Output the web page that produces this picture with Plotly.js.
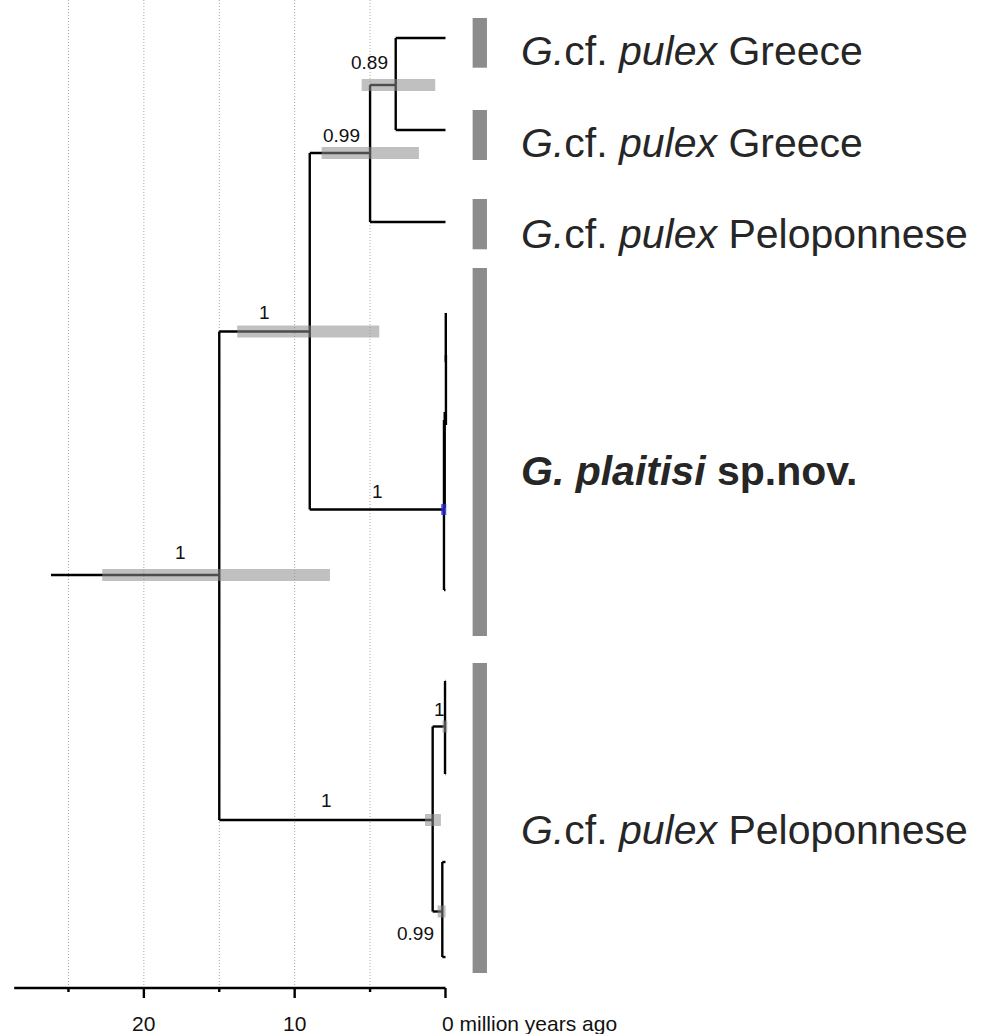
<!DOCTYPE html>
<html>
<head>
<meta charset="utf-8">
<script src="https://cdn.plot.ly/plotly-3.0.1.min.js"></script>
<style>html,body{margin:0;padding:0;background:#fff;}#chart{width:984px;height:1034px;}</style>
</head>
<body>
<div id="chart"></div>
<script>
// ---------- DATA (ages in million years ago; y = row position) ----------
const nodeNames   = ['root', 'A', 'B', 'C', 'D', 'E', 'F', 'G'];
const nodeAges    = [15.0, 9.0, 5.0, 3.3, 0.1, 0.85, 0.03, 0.21];
const nodeParents = [null, 'root', 'A', 'B', 'A', 'root', 'E', 'E'];
const nodeRowY    = [575, 331.5, 153, 85, 509.5, 820, 726.5, 911.5];
const nodeSpanTop = [331.5, 153, 85, 38, 420, 726.5, 681, 862];
const nodeSpanBot = [820, 509.5, 222, 130, 590, 911.5, 774, 957];
const nodeSupport = ['1', '1', '0.99', '0.89', '1', '1', '1', '0.99'];
const hpdLow      = [7.66, 4.39, 1.76, 0.68, -0.05, 0.30, -0.12, -0.01];
const hpdHigh     = [22.76, 13.81, 8.21, 5.56, 0.28, 1.36, 0.20, 0.52];
const labelAge    = [17.6, 11.97, 6.9, 5.06, 4.5, 7.9, 0.4, 2.0];
const labelRowY   = [552.7, 312.7, 135, 62.7, 491, 800, 709, 933.3];

const rootStemAge = 26.16;

const tipParents = ['C', 'C', 'B', 'F', 'F', 'G', 'G', 'D'];
const tipRowY    = [38, 130, 222, 681, 774, 862, 957, 590];
const tipAges    = [0, 0, 0, 0, 0, 0, 0, 0];

// near-zero-length comb inside G. plaitisi
const combAges = [-0.02, -0.03, 0.05];
const combTop  = [313, 355, 412];
const combBot  = [362, 425, 508];

const cladeLabels = [
  '<i>G.</i>cf. <i>pulex</i> Greece',
  '<i>G.</i>cf. <i>pulex</i> Greece',
  '<i>G.</i>cf. <i>pulex</i> Peloponnese',
  '<b><i>G. plaitisi</i> sp.nov.</b>',
  '<i>G.</i>cf. <i>pulex</i> Peloponnese'
];
const cladeTop    = [18, 110, 199, 268, 663];
const cladeBottom = [67.7, 160, 249.3, 636, 973];
const cladeLabelY = [50.8, 142.5, 233.5, 470.8, 830];

const tickVals  = [25, 20, 15, 10, 5, 0];
const tickText  = ['', '20', '', '10', '', '0 million years ago'];
const tickMajor = [false, true, false, true, false, true];
const axisStart = 28.6;

// ---------- BUILD ----------
const FONT = 'Liberation Sans, Arial, Helvetica, sans-serif';
const ageOf = n => n === null ? rootStemAge : nodeAges[nodeNames.indexOf(n)];

const lx = [], ly = [];
function seg(x1, y1, x2, y2) { lx.push(x1, x2, null); ly.push(y1, y2, null); }

// root stem
seg(rootStemAge, nodeRowY[0], nodeAges[0], nodeRowY[0]);
// internal branches and node verticals
nodeNames.forEach((n, i) => {
  if (nodeParents[i] !== null) seg(ageOf(nodeParents[i]), nodeRowY[i], nodeAges[i], nodeRowY[i]);
  seg(nodeAges[i], nodeSpanTop[i], nodeAges[i], nodeSpanBot[i]);
});
// tip branches
tipParents.forEach((p, i) => seg(ageOf(p), tipRowY[i], tipAges[i], tipRowY[i]));
// comb
combAges.forEach((a, i) => seg(a, combTop[i], a, combBot[i]));

const hx = [], hy = [];
nodeNames.forEach((n, i) => {
  if (n === 'D') return;
  hx.push(hpdHigh[i], hpdLow[i], null); hy.push(nodeRowY[i], nodeRowY[i], null);
});
const di = nodeNames.indexOf('D');

const traces = [
  {x: lx, y: ly, mode: 'lines', line: {color: '#000', width: 2.4}, hoverinfo: 'skip', connectgaps: false},
  {x: hx, y: hy, mode: 'lines', line: {color: 'rgba(140,140,140,0.55)', width: 12}, hoverinfo: 'skip', connectgaps: false},
  {x: [hpdHigh[di], hpdLow[di]], y: [nodeRowY[di], nodeRowY[di]], mode: 'lines', line: {color: 'rgba(40,40,210,0.8)', width: 11}, hoverinfo: 'skip'}
];

const shapes = [];
// dotted grid
tickVals.forEach(v => {
  if (v === 0) return;
  shapes.push({type: 'line', xref: 'x', yref: 'y', x0: v, x1: v, y0: 0, y1: 988, layer: 'below',
    line: {color: '#a8a8a8', width: 1, dash: '1px,2px'}});
});
// axis line + ticks
shapes.push({type: 'line', xref: 'x', yref: 'y', x0: axisStart, x1: 0, y0: 988, y1: 988, line: {color: '#000', width: 2.4}});
tickVals.forEach((v, i) => {
  shapes.push({type: 'line', xref: 'x', yref: 'y', x0: v, x1: v, y0: 988, y1: tickMajor[i] ? 998 : 992, line: {color: '#000', width: 2.4}});
});
// clade bars
cladeTop.forEach((t, i) => {
  shapes.push({type: 'rect', xref: 'x', yref: 'y', x0: -1.80, x1: -2.75, y0: t, y1: cladeBottom[i],
    fillcolor: '#8c8c8c', line: {width: 0}});
});

const annotations = [];
nodeSupport.forEach((s, i) => {
  annotations.push({x: labelAge[i], y: labelRowY[i], xref: 'x', yref: 'y', text: s, showarrow: false,
    xanchor: 'center', yanchor: 'middle', font: {family: FONT, size: 19, color: '#111'}});
});
cladeLabels.forEach((t, i) => {
  annotations.push({x: -4.9, y: cladeLabelY[i], xref: 'x', yref: 'y', text: t, showarrow: false,
    xanchor: 'left', yanchor: 'middle', font: {family: FONT, size: 41, color: '#262626'}});
});
tickVals.forEach((v, i) => {
  if (!tickText[i]) return;
  const last = v === 0;
  annotations.push({x: v, y: 1023, xref: 'x', yref: 'y', text: tickText[i], showarrow: false,
    xanchor: last ? 'left' : 'center', xshift: last ? -5 : 0, yanchor: 'middle',
    font: {family: FONT, size: 21, color: '#111'}});
});

const layout = {
  width: 984, height: 1034,
  margin: {l: 0, r: 0, t: 0, b: 0},
  paper_bgcolor: '#fff', plot_bgcolor: '#fff',
  showlegend: false,
  xaxis: {range: [29.54, -35.71], visible: false, fixedrange: true},
  yaxis: {range: [1034, 0], visible: false, fixedrange: true},
  shapes: shapes,
  annotations: annotations
};

Plotly.newPlot('chart', traces, layout, {displayModeBar: false, staticPlot: true});
</script>
</body>
</html>
